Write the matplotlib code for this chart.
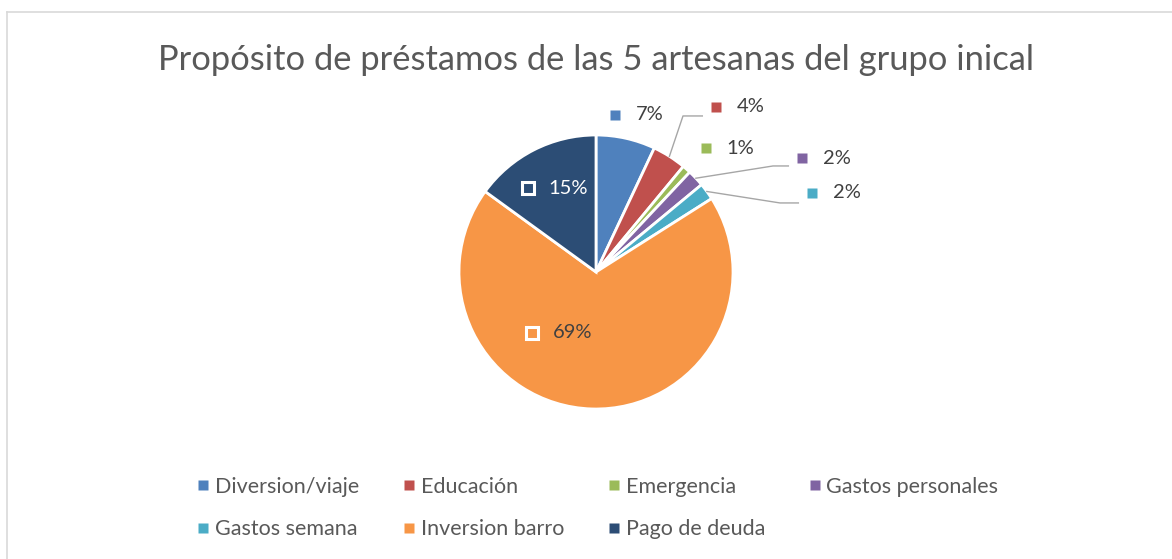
import numpy as np
import matplotlib.pyplot as plt
from matplotlib.lines import Line2D

plt.rcParams['font.family'] = ['Lato', 'DejaVu Sans']

categories = ['Diversion/viaje', 'Educación', 'Emergencia', 'Gastos personales',
              'Gastos semana', 'Inversion barro', 'Pago de deuda']
values = [7, 4, 1, 2, 2, 69, 15]
colors = ['#4F81BD', '#C0504D', '#9BBB59', '#8064A2', '#4BACC6', '#F79646', '#2C4D75']
title = 'Propósito de préstamos de las 5 artesanas del grupo inical'

# label placement (data units, pie radius = 1); None = no leader line
label_pos = [(0.14, 1.146), (0.876, 1.205), (0.803, 0.905), (1.504, 0.832),
             (1.577, 0.577), (-0.467, -0.445), (-0.496, 0.613)]
leader_mid = [None, (0.635, 1.139), None, (1.292, 0.774), (1.343, 0.504), None, None]
inside = [False, False, False, False, False, True, True]

W, H = 1172, 559
fig = plt.figure(figsize=(W / 100, H / 100), dpi=100)

# chart border
fig.add_artist(Line2D([7 / W, 7 / W], [0, 1 - 12 / H], color='#D9D9D9', lw=1.2))
fig.add_artist(Line2D([7 / W, 1], [1 - 12 / H, 1 - 12 / H], color='#D9D9D9', lw=1.2))

cx, cy, r = 596, 272, 137
box = 160
ax = fig.add_axes([(cx - box) / W, (H - cy - box) / H, 2 * box / W, 2 * box / H])
lim = box / r
wedges, _ = ax.pie(values, colors=colors, startangle=90, counterclock=False,
                   wedgeprops=dict(edgecolor='white', linewidth=2))
ax.set_xlim(-lim, lim)
ax.set_ylim(-lim, lim)
ax.set_aspect('equal')
ax.axis('off')

total = sum(values)
cum = np.cumsum([0] + values)
for i, v in enumerate(values):
    lx, ly = label_pos[i]
    txt = f'{round(100 * v / total)}%'
    if inside[i]:
        ax.plot(lx, ly, marker='s', ms=9, mfc=colors[i], mec='white', mew=2.2, clip_on=False)
        tc = 'white' if i == 6 else '#404040'
    else:
        ax.plot(lx, ly, marker='s', ms=6.5, mfc=colors[i], mec='none', clip_on=False)
        tc = '#404040'
    ax.text(lx + 0.15, ly, txt, fontsize=14.5, color=tc, va='center', ha='left')
    if leader_mid[i] is not None:
        mid = np.deg2rad(90 - 360 * (cum[i] + v / 2) / total)
        p0 = (np.cos(mid), np.sin(mid))
        mx, my = leader_mid[i]
        ax.plot([p0[0], mx, lx - 0.1], [p0[1], my, my], color='#A6A6A6', lw=1, clip_on=False)

fig.text(596 / W, 1 - 60 / H, title, ha='center', va='center', fontsize=24.8, color='#595959')

# legend laid out row by row (matplotlib fills columns first)
order = [0, 4, 1, 5, 2, 6, 3]
handles = [Line2D([], [], marker='s', ls='', ms=6.5, mfc=colors[k], mec='none') for k in order]
fig.legend(handles, [categories[k] for k in order], ncol=4, loc='center left',
           bbox_to_anchor=(197 / W, 1 - 508 / H),
           frameon=False, fontsize=15.5, labelcolor='#595959', handlelength=0.6,
           handletextpad=0.25, columnspacing=2.0, labelspacing=1.05, borderaxespad=0, borderpad=0)

fig.savefig('out.png', dpi=100, facecolor='white')
